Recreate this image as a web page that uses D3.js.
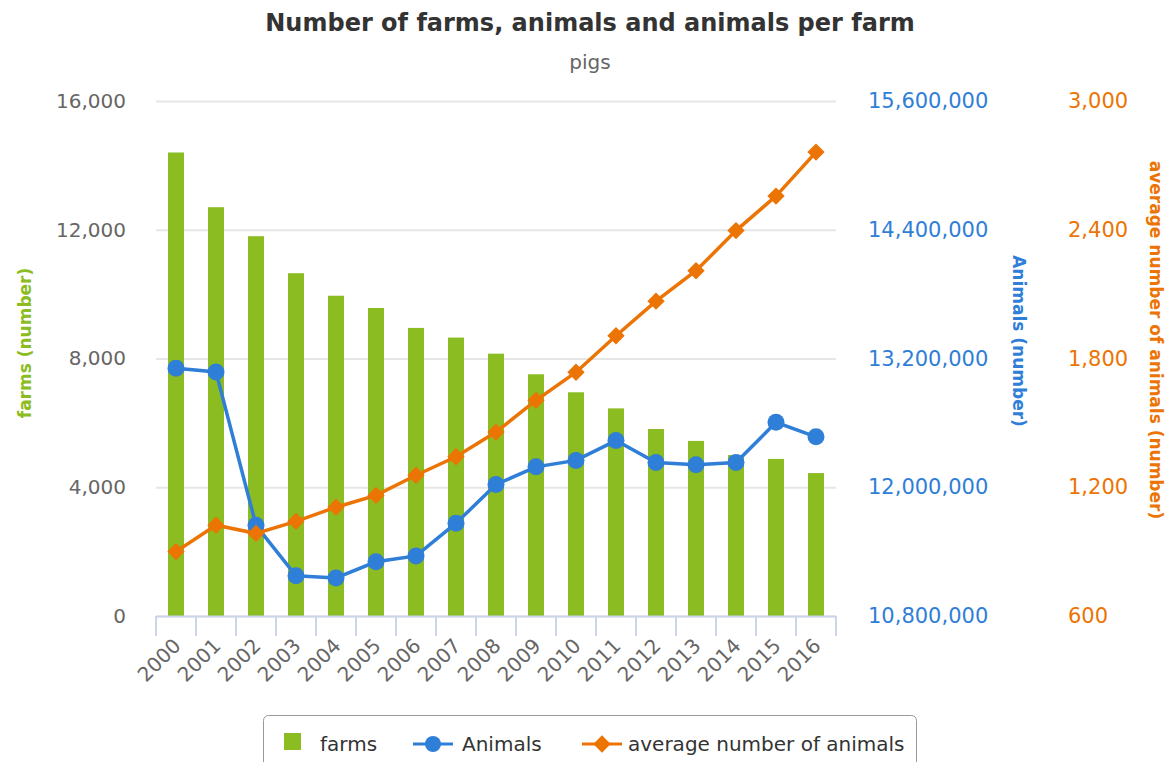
<!DOCTYPE html>
<html>
<head>
<meta charset="utf-8">
<script src="https://cdn.jsdelivr.net/npm/d3@7"></script>
<style>
  body { margin: 0; background: #fff; }
  svg, svg text { font-family: "DejaVu Sans", Verdana, sans-serif; }
</style>
</head>
<body>
<div id="chart"></div>
<script>
var years = ["2000", "2001", "2002", "2003", "2004", "2005", "2006", "2007", "2008",
             "2009", "2010", "2011", "2012", "2013", "2014", "2015", "2016"];
var farms = [14400, 12700, 11800, 10650, 9950, 9570, 8950, 8650, 8150,
             7510, 6950, 6450, 5810, 5440, 5000, 4880, 4440];
var animals = [13110000, 13075000, 11645000, 11175000, 11155000, 11305000, 11360000, 11665000, 12025000,
               12190000, 12250000, 12435000, 12230000, 12210000, 12230000, 12605000, 12470000];
var avgAnimals = [900, 1023, 985, 1041, 1107, 1162, 1256, 1342, 1457,
                  1605, 1736, 1906, 2067, 2209, 2396, 2557, 2762];
var farmTicks = [0, 4000, 8000, 12000, 16000];
var animalTicks = [10800000, 12000000, 13200000, 14400000, 15600000];
var avgTicks = [600, 1200, 1800, 2400, 3000];

var green = "#8bbc21", blue = "#2f7ed8", orange = "#ec7404";
var W = 1174, H = 762;
var margin = {top: 101, left: 156, right: 338, bottom: 146};
var plot_w = W - margin.left - margin.right;
var plot_h = H - margin.top - margin.bottom;
var fmt = d3.format(",");
var font = "DejaVu Sans, Verdana, sans-serif";

var svg = d3.select("#chart").append("svg")
            .attr("width", W)
            .attr("height", H)
            .attr("font-family", font);

var xscale = d3.scaleBand().domain(years).range([0, plot_w]);
var y_farms = d3.scaleLinear().domain([0, 16000]).range([plot_h, 0]);
var y_animals = d3.scaleLinear().domain([10800000, 15600000]).range([plot_h, 0]);
var y_avg = d3.scaleLinear().domain([600, 3000]).range([plot_h, 0]);

var g = svg.append("g")
           .attr("transform", "translate(" + margin.left + "," + margin.top + ")");

// gridlines
g.selectAll(".grid")
 .data(farmTicks)
 .enter()
 .append("line")
 .attr("x1", 0)
 .attr("x2", plot_w)
 .attr("y1", function(d) { return y_farms(d) + 0.5; })
 .attr("y2", function(d) { return y_farms(d) + 0.5; })
 .style("stroke", "#e6e6e6")
 .style("stroke-width", 2);

// left axis
var yaxis_left = d3.axisLeft(y_farms).tickValues(farmTicks).tickFormat(fmt).tickSize(0).tickPadding(30);
var gl = g.append("g").call(yaxis_left).attr("font-family", font);
gl.select(".domain").remove();
gl.selectAll("text").style("font-size", "20px").style("fill", "#666");

// right axes
var yaxis_right = d3.axisRight(y_animals).tickValues(animalTicks).tickFormat(fmt).tickSize(0).tickPadding(32);
var gr = g.append("g").attr("transform", "translate(" + plot_w + ",0)").call(yaxis_right).attr("font-family", font);
gr.select(".domain").remove();
gr.selectAll("text").style("font-size", "21px").style("fill", blue);

var yaxis_right2 = d3.axisRight(y_avg).tickValues(avgTicks).tickFormat(fmt).tickSize(0).tickPadding(232);
var gr2 = g.append("g").attr("transform", "translate(" + plot_w + ",0)").call(yaxis_right2).attr("font-family", font);
gr2.select(".domain").remove();
gr2.selectAll("text").style("font-size", "21px").style("fill", orange);

// bars
g.selectAll(".bar")
 .data(farms)
 .enter()
 .append("rect")
 .attr("class", "bar")
 .attr("x", function(d, i) { return xscale(years[i]) + xscale.bandwidth() / 2 - 8; })
 .attr("y", function(d) { return y_farms(d); })
 .attr("width", 16)
 .attr("height", function(d) { return plot_h - y_farms(d); })
 .attr("fill", green);

// x axis
var xaxis = d3.axisBottom(xscale).tickSize(0);
var gx = g.append("g").attr("transform", "translate(0," + plot_h + ")").call(xaxis).attr("font-family", font);
gx.select(".domain").style("stroke", "#ccd6eb").style("stroke-width", 2);
gx.selectAll(".xtick")
  .data(d3.range(years.length + 1))
  .enter()
  .append("line")
  .attr("x1", function(i) { return i * xscale.step(); })
  .attr("x2", function(i) { return i * xscale.step(); })
  .attr("y1", 0)
  .attr("y2", 20)
  .style("stroke", "#ccd6eb")
  .style("stroke-width", 2);
gx.selectAll(".tick text")
  .style("font-size", "20px")
  .style("fill", "#666")
  .attr("text-anchor", "end")
  .attr("y", 0)
  .attr("dy", 0)
  .attr("transform", "translate(6,31) rotate(-45)");

// animals line
var line_animals = d3.line()
                     .x(function(d, i) { return xscale(years[i]) + xscale.bandwidth() / 2; })
                     .y(function(d) { return y_animals(d); });
g.append("path")
 .datum(animals)
 .attr("d", line_animals)
 .attr("fill", "none")
 .style("stroke", blue)
 .style("stroke-width", 3.5);
g.selectAll(".dot")
 .data(animals)
 .enter()
 .append("circle")
 .attr("cx", function(d, i) { return xscale(years[i]) + xscale.bandwidth() / 2; })
 .attr("cy", function(d) { return y_animals(d); })
 .attr("r", 8.5)
 .attr("fill", blue);

// average line
var line_avg = d3.line()
                 .x(function(d, i) { return xscale(years[i]) + xscale.bandwidth() / 2; })
                 .y(function(d) { return y_avg(d); });
g.append("path")
 .datum(avgAnimals)
 .attr("d", line_avg)
 .attr("fill", "none")
 .style("stroke", orange)
 .style("stroke-width", 3.5);
var diamond = d3.symbol().type(d3.symbolSquare).size(150);
g.selectAll(".diamond")
 .data(avgAnimals)
 .enter()
 .append("path")
 .attr("d", diamond)
 .attr("transform", function(d, i) {
     return "translate(" + (xscale(years[i]) + xscale.bandwidth() / 2) + "," + y_avg(d) + ") rotate(45)";
 })
 .attr("fill", orange);

// titles
svg.append("text")
   .attr("x", 590).attr("y", 31)
   .attr("text-anchor", "middle")
   .style("font-size", "24px").style("font-weight", "bold").style("fill", "#333")
   .text("Number of farms, animals and animals per farm");
svg.append("text")
   .attr("x", 590).attr("y", 69)
   .attr("text-anchor", "middle")
   .style("font-size", "20px").style("fill", "#666")
   .text("pigs");

// axis titles
svg.append("text")
   .attr("transform", "translate(31,343) rotate(-90)")
   .attr("text-anchor", "middle")
   .style("font-size", "17px").style("font-weight", "bold").style("fill", green)
   .text("farms (number)");
svg.append("text")
   .attr("transform", "translate(1013,341) rotate(90)")
   .attr("text-anchor", "middle")
   .style("font-size", "17px").style("font-weight", "bold").style("fill", blue)
   .text("Animals (number)");
svg.append("text")
   .attr("transform", "translate(1150,340) rotate(90)")
   .attr("text-anchor", "middle")
   .style("font-size", "17px").style("font-weight", "bold").style("fill", orange)
   .text("average number of animals (number)");

// legend
var legend = svg.append("g");
legend.append("rect")
      .attr("x", 263.5).attr("y", 715.5)
      .attr("width", 653).attr("height", 70)
      .attr("rx", 5)
      .attr("fill", "#fff")
      .style("stroke", "#999");
legend.append("rect")
      .attr("x", 284).attr("y", 733).attr("width", 17).attr("height", 17)
      .attr("fill", green);
legend.append("text").attr("x", 320).attr("y", 751)
      .style("font-size", "20px").style("fill", "#333").text("farms");
legend.append("line").attr("x1", 413).attr("x2", 453).attr("y1", 744).attr("y2", 744)
      .style("stroke", blue).style("stroke-width", 3);
legend.append("circle").attr("cx", 433).attr("cy", 744).attr("r", 8).attr("fill", blue);
legend.append("text").attr("x", 462).attr("y", 751)
      .style("font-size", "20px").style("fill", "#333").text("Animals");
legend.append("line").attr("x1", 582).attr("x2", 622).attr("y1", 744).attr("y2", 744)
      .style("stroke", orange).style("stroke-width", 3);
legend.append("path").attr("d", diamond)
      .attr("transform", "translate(602,744) rotate(45)").attr("fill", orange);
legend.append("text").attr("x", 628).attr("y", 751)
      .style("font-size", "20px").style("fill", "#333").text("average number of animals");
</script>
</body>
</html>
